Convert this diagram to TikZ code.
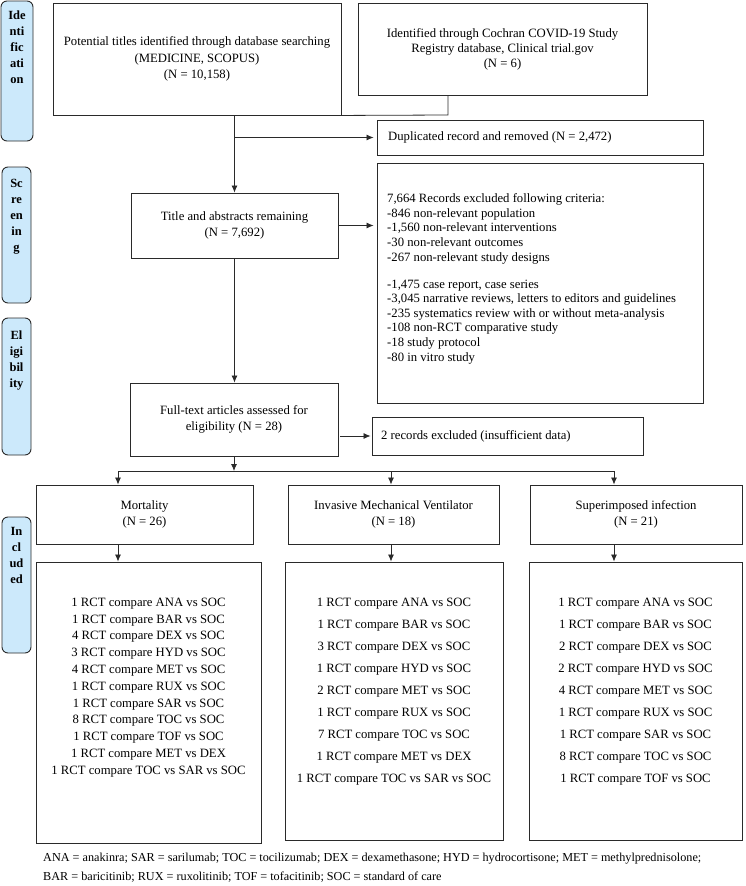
\documentclass[tikz,border=0pt]{standalone}
\usepackage{fontspec}
\setmainfont{Liberation Serif}
\usetikzlibrary{arrows.meta}
\definecolor{stagefill}{HTML}{CCE9FB}
\definecolor{linecol}{HTML}{2A2A2A}
\begin{document}
\begin{tikzpicture}[x=1pt,y=-1pt,
  box/.style={draw=linecol, line width=0.9pt, inner sep=0pt},
  stage/.style={draw=linecol, fill=stagefill, rounded corners=6pt, line width=0.9pt, inner sep=0pt},
  stagetext/.style={font=\fontsize{12.5}{16}\selectfont\bfseries, align=center, anchor=north, inner sep=0pt},
  txt/.style={font=\fontsize{12.7}{16.5}\selectfont, align=center, inner sep=0pt},
  ltxt/.style={font=\fontsize{12.7}{14.6}\selectfont, align=left, inner sep=0pt},
  arr/.style={draw=linecol, line width=0.8pt, -{Latex[length=7pt,width=6pt]}},
  ln/.style={draw=linecol, line width=0.8pt}
]
\useasboundingbox (0,0) rectangle (746,886);

% stage labels
\node[stage, minimum width=32pt, minimum height=140pt] (stId) at (17,71) {};
\node[stage, minimum width=29pt, minimum height=136pt] (stSc) at (16.5,235) {};
\node[stage, minimum width=29pt, minimum height=137pt] (stEl) at (16.5,386.5) {};
\node[stage, minimum width=29pt, minimum height=136pt] (stIn) at (16.5,585) {};
\node[stagetext] (tId) at (17,10.6) {Ide\\nti\\fic\\ati\\on};
\node[stagetext] (tSc) at (16.5,178.6) {Sc\\re\\en\\in\\g};
\node[stagetext] (tEl) at (16.5,330.6) {El\\igi\\bil\\ity};
\node[stagetext] (tIn) at (16.5,527.6) {In\\cl\\ud\\ed};

% boxes
\node[box, txt, minimum width=288pt, minimum height=112pt] (src1) at (197,59)
  {Potential titles identified through database searching\\(MEDICINE, SCOPUS)\\(N = 10,158)};
\node[box, txt, font=\fontsize{12.7}{15}\selectfont, minimum width=289pt, minimum height=92pt] (src2) at (502.5,49)
  {Identified through Cochran COVID-19 Study\\Registry database, Clinical trial.gov\\(N = 6)};
\node[box, minimum width=326pt, minimum height=35pt] (dup) at (540,137.5) {};
\node[ltxt, anchor=west] (duptext) at (388,137.5) {Duplicated record and removed (N = 2,472)};
\node[box, txt, minimum width=207pt, minimum height=65pt] (title) at (234.5,225.5)
  {Title and abstracts remaining\\(N = 7,692)};
\node[box, minimum width=326pt, minimum height=240pt] (excl) at (540,283) {};
\node[ltxt, anchor=north west] (excltext) at (387,193.6)
  {7,664 Records excluded following criteria:\\
   -846 non-relevant population\\
   -1,560 non-relevant interventions\\
   -30 non-relevant outcomes\\
   -267 non-relevant study designs\\[12.4pt]
   -1,475 case report, case series\\
   -3,045 narrative reviews, letters to editors and guidelines\\
   -235 systematics review with or without meta-analysis\\
   -108 non-RCT comparative study\\
   -18 study protocol\\
   -80 in vitro study};
\node[box, txt, minimum width=208pt, minimum height=73pt] (full) at (234,419.5)
  {Full-text articles assessed for\\eligibility (N = 28)};
\node[box, minimum width=271pt, minimum height=38pt] (rec2) at (507.5,436) {};
\node[ltxt, anchor=west] (rec2text) at (381,436) {2 records excluded (insufficient data)};

\node[box, txt, font=\fontsize{12.7}{16}\selectfont, minimum width=217pt, minimum height=59pt] (hMort) at (144.5,514.5)
  {Mortality\\(N = 26)};
\node[box, txt, font=\fontsize{12.7}{16}\selectfont, minimum width=211pt, minimum height=59pt] (hIMV) at (393.5,514.5)
  {Invasive Mechanical Ventilator\\(N = 18)};
\node[box, txt, font=\fontsize{12.7}{16}\selectfont, minimum width=212pt, minimum height=59pt] (hSI) at (636,514.5)
  {Superimposed infection\\(N = 21)};

\node[box, minimum width=225pt, minimum height=281pt] (lMort) at (148.5,702.5) {};
\node[box, minimum width=218pt, minimum height=278pt] (lIMV) at (394,701) {};
\node[box, minimum width=213pt, minimum height=278pt] (lSI) at (635.5,701) {};

\node[txt, font=\fontsize{12.7}{16.8}\selectfont, anchor=north] (tMort) at (148.5,597.6)
  {1 RCT compare ANA vs SOC\\1 RCT compare BAR vs SOC\\4 RCT compare DEX vs SOC\\3 RCT compare HYD vs SOC\\
   4 RCT compare MET vs SOC\\1 RCT compare RUX vs SOC\\1 RCT compare SAR vs SOC\\8 RCT compare TOC vs SOC\\
   1 RCT compare TOF vs SOC\\1 RCT compare MET vs DEX\\1 RCT compare TOC vs SAR vs SOC};
\node[txt, font=\fontsize{12.7}{22}\selectfont, anchor=north] (tIMV) at (394,597.6)
  {1 RCT compare ANA vs SOC\\1 RCT compare BAR vs SOC\\3 RCT compare DEX vs SOC\\1 RCT compare HYD vs SOC\\
   2 RCT compare MET vs SOC\\1 RCT compare RUX vs SOC\\7 RCT compare TOC vs SOC\\1 RCT compare MET vs DEX\\
   1 RCT compare TOC vs SAR vs SOC};
\node[txt, font=\fontsize{12.7}{22}\selectfont, anchor=north] (tSI) at (635.5,597.6)
  {1 RCT compare ANA vs SOC\\1 RCT compare BAR vs SOC\\2 RCT compare DEX vs SOC\\2 RCT compare HYD vs SOC\\
   4 RCT compare MET vs SOC\\1 RCT compare RUX vs SOC\\1 RCT compare SAR vs SOC\\8 RCT compare TOC vs SOC\\
   1 RCT compare TOF vs SOC};

\node[ltxt, font=\fontsize{12.2}{19}\selectfont, anchor=north west] (foot) at (43,852.6)
  {ANA = anakinra; SAR = sarilumab; TOC = tocilizumab; DEX = dexamethasone; HYD = hydrocortisone; MET = methylprednisolone;\\
   BAR = baricitinib; RUX = ruxolitinib; TOF = tofacitinib; SOC = standard of care};

% connectors
\coordinate (j1) at (448,115);
\draw[ln] (src2.south -| j1) -- (j1) -- (src1.south east);
\draw[arr] (title.north |- src1.south) -- (title.north);
\draw[arr, shorten >=3pt] (title.north |- dup.west) -- (dup.west);
\draw[arr, shorten >=3pt] (title.east) -- (title.east -| excl.west);
\draw[arr] (title.south) -- (title.south |- full.north);
\draw[arr, shorten >=1pt] (full.east |- rec2.west) ++(2,0) -- (rec2.west);
\coordinate (jh) at (235,471);
\coordinate (jl) at (118,471);
\coordinate (jm) at (391,471);
\coordinate (jr) at (614,471);
\draw[arr] (full.south) -- (full.south |- jh);
\draw[ln] (jl) -- (jr);
\draw[arr] (jl) -- (jl |- hMort.north);
\draw[arr] (jm) -- (jm |- hIMV.north);
\draw[arr] (jr) -- (jr |- hSI.north);
\draw[arr] (jl |- hMort.south) -- (jl |- lMort.north);
\draw[arr] (jm |- hIMV.south) -- (jm |- lIMV.north);
\draw[arr] (jr |- hSI.south) -- (jr |- lSI.north);
\end{tikzpicture}
\end{document}
